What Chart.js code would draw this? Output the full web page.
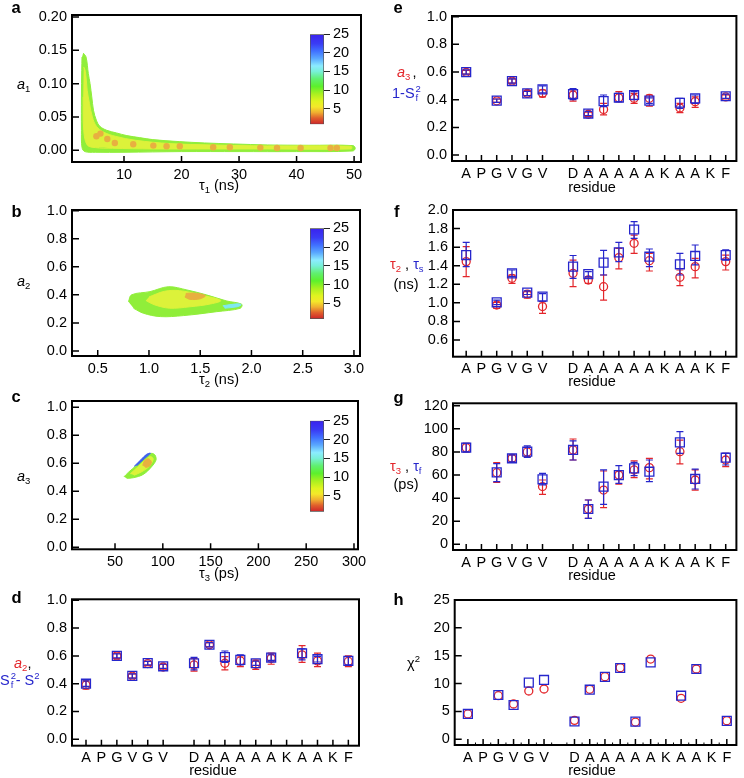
<!DOCTYPE html>
<html><head><meta charset="utf-8">
<script src="https://cdn.jsdelivr.net/npm/chart.js@4.4.1/dist/chart.umd.min.js"></script>
<style>
html,body{margin:0;padding:0;background:#fff;}
#wrap{position:relative;width:744px;height:778px;overflow:hidden;font-family:"Liberation Sans",Arial,Helvetica,sans-serif;}
canvas{position:absolute;left:0;top:0;}
.t{position:absolute;white-space:nowrap;color:#000;}
</style></head><body><div id="wrap"></div>
<script>
// ================= DATA =================
// residue axis (positions 1..18; position 7 is an empty gap)
const residueLabels = ['A','P','G','V','G','V','','D','A','A','A','A','A','K','A','A','K','F'];
const residuePos = [1,3,4,5,6,8,9,10,11,12,13,15,16,18];

// panel a : a1 vs tau1 (ns) density cloud outlines
const cloudA_outer = [[2.9,0.146],[3.4,0.140],[3.8,0.115],[4.1,0.100],[4.4,0.080],[4.7,0.060],[5.2,0.045],[5.8,0.036],[7,0.030],[8.7,0.026],[10.5,0.022],[12.7,0.019],[15,0.016],[19.6,0.013],[24,0.011],[29,0.0095],[35,0.008],[42,0.0075],[49.8,0.007],[50.2,0.003],[49.8,-0.001],[40,-0.002],[30,-0.002],[20,-0.002],[10,-0.003],[5,-0.003],[3.2,-0.002],[2.7,0.004],[2.6,0.03],[2.6,0.08],[2.65,0.12],[2.7,0.14]];
const cloudA_inner = [[3.0,0.125],[3.3,0.118],[3.6,0.09],[4.0,0.07],[4.5,0.05],[5.2,0.036],[6.5,0.027],[8.5,0.021],[12,0.015],[18,0.010],[25,0.008],[35,0.0065],[49.5,0.006],[49.5,0.002],[35,0.002],[25,0.002],[15,0.002],[8,0.003],[5,0.004],[3.6,0.008],[3.0,0.03],[2.9,0.08]];
const cloudA_dots = [[5.2,0.021],[5.9,0.025],[7.1,0.017],[8.4,0.011],[11.6,0.009],[15.1,0.007],[17.4,0.006],[19.7,0.006],[25.5,0.0045],[28.4,0.0045],[33.7,0.004],[36.6,0.0035],[40.7,0.0035],[45.9,0.0035],[47,0.0035]];
const tau1Ticks = [10,20,30,40,50];
const a1Ticks = [0,0.05,0.10,0.15,0.20];

// panel b : a2 vs tau2 (ns)
const cloudB_outer = [[0.80,0.351],[0.83,0.40],[1.01,0.423],[1.19,0.458],[1.37,0.435],[1.56,0.40],[1.76,0.356],[1.905,0.333],[1.89,0.304],[1.66,0.28],[1.335,0.252],[1.11,0.245],[0.945,0.269],[0.85,0.304]];
const cloudB_inner = [[1.0,0.385],[1.15,0.425],[1.3,0.43],[1.5,0.40],[1.7,0.36],[1.6,0.335],[1.4,0.315],[1.2,0.305],[1.05,0.33],[0.97,0.36]];
const cloudB_core = [[1.36,0.41],[1.45,0.412],[1.55,0.395],[1.5,0.372],[1.4,0.368],[1.35,0.385]];
const cloudB_edge = [[1.72,0.322],[1.86,0.336],[1.9,0.33],[1.86,0.315],[1.74,0.305]];
const tau2Ticks = [0.5,1.0,1.5,2.0,2.5,3.0];
const aTicks = [0,0.2,0.4,0.6,0.8,1.0];

// panel c : a3 vs tau3 (ps)
const cloudC_outer = [[59.4,0.504],[63.9,0.535],[72.7,0.588],[83.1,0.659],[88.3,0.671],[91.8,0.659],[92.9,0.624],[88.3,0.576],[79.6,0.521],[69.1,0.497],[62.2,0.493]];
const cloudC_inner = [[66,0.525],[74,0.575],[82,0.625],[87,0.648],[90,0.63],[86,0.58],[78,0.54],[70,0.515]];
const cloudC_core = [[79,0.585],[81,0.62],[85,0.632],[88,0.61],[86,0.58],[82,0.57]];
const cloudC_edge = [[70,0.578],[77,0.625],[83,0.664],[87,0.672],[81,0.635],[73,0.585]];
const tau3Ticks = [50,100,150,200,250,300];

// colour bar
const cbMin = 0.8, cbMax = 25;
const cbTicks = [5,10,15,20,25];

// panel d : a2 (red) and Sf^2 - S^2 (blue)
const dRed   = [0.39,0.60,0.455,0.545,0.52,0.535,0.68,0.547,0.564,0.54,0.583,0.607,0.564,0.56];
const dRedLo = [0.36,0.58,0.44,0.53,0.50,0.49,0.665,0.50,0.523,0.503,0.54,0.554,0.523,0.523];
const dRedHi = [0.42,0.62,0.47,0.56,0.54,0.58,0.695,0.595,0.60,0.57,0.62,0.674,0.62,0.60];
const dBlue   = [0.40,0.60,0.456,0.548,0.525,0.547,0.68,0.592,0.571,0.547,0.588,0.619,0.576,0.564];
const dBlueLo = [0.38,0.585,0.44,0.535,0.51,0.50,0.665,0.554,0.535,0.532,0.568,0.571,0.556,0.535];
const dBlueHi = [0.42,0.615,0.47,0.56,0.54,0.59,0.695,0.635,0.607,0.562,0.608,0.65,0.596,0.595];

// panel e : a3 (red) and 1 - Sf^2 (blue)
const eRed   = [0.598,0.392,0.535,0.446,0.446,0.434,0.295,0.33,0.414,0.41,0.41,0.34,0.386,0.42];
const eRedLo = [0.585,0.38,0.52,0.43,0.42,0.39,0.28,0.29,0.386,0.373,0.354,0.306,0.345,0.405];
const eRedHi = [0.612,0.405,0.55,0.465,0.47,0.47,0.31,0.373,0.458,0.446,0.434,0.373,0.42,0.435];
const eBlue   = [0.60,0.393,0.535,0.446,0.475,0.441,0.30,0.39,0.414,0.434,0.393,0.378,0.41,0.425];
const eBlueLo = [0.585,0.38,0.52,0.43,0.45,0.40,0.285,0.35,0.386,0.40,0.373,0.337,0.373,0.41];
const eBlueHi = [0.615,0.405,0.55,0.46,0.50,0.48,0.315,0.434,0.446,0.458,0.413,0.41,0.434,0.44];

// panel f : tau2 (red) and tau_s (blue), ns
const fRed   = [1.444,0.977,1.264,1.095,0.96,1.318,1.246,1.174,1.487,1.641,1.454,1.275,1.39,1.444];
const fRedLo = [1.282,0.94,1.21,1.05,0.887,1.174,1.21,1.03,1.365,1.533,1.343,1.185,1.27,1.354];
const fRedHi = [1.605,1.006,1.30,1.12,1.013,1.46,1.28,1.30,1.587,1.73,1.533,1.354,1.48,1.515];
const fBlue   = [1.515,1.006,1.318,1.11,1.067,1.39,1.31,1.433,1.544,1.79,1.497,1.415,1.505,1.515];
const fBlueLo = [1.39,0.98,1.282,1.09,1.02,1.264,1.28,1.30,1.444,1.695,1.39,1.30,1.41,1.46];
const fBlueHi = [1.652,1.03,1.354,1.13,1.10,1.51,1.336,1.566,1.652,1.874,1.58,1.533,1.623,1.57];

// panel g : tau3 (red) and tau_f (blue), ps
const gRed   = [83.7,62,74.5,80,50,81.7,30.6,47,60,64.4,66.4,80.2,55.7,73];
const gRedLo = [80,53.7,71.5,76,43.3,73,22.5,31.7,52,57.7,56.6,69.6,47,67.2];
const gRedHi = [87.5,70.7,77.5,84,55.7,91.2,38.4,63.5,63.5,72.2,74.5,90.3,64.4,78.8];
const gBlue   = [83.7,62.3,74.5,80.2,56.3,81.7,30.6,50,60,65.8,62.9,88.3,56.6,75];
const gBlueLo = [80,54.3,71.5,75.2,51.4,73,22.5,34.6,52.8,59.5,54.3,78.8,47.9,68.7];
const gBlueHi = [87.5,69.8,77.5,85.2,61.5,89.5,38.4,64.4,68.1,71,73,97.5,65.2,78.8];

// panel h : chi^2
const hRed  = [4.55,7.83,6.34,8.67,9.03,3.4,8.97,11.24,12.86,3.1,14.4,7.36,12.62,3.35];
const hBlue = [4.55,7.95,6.16,10.17,10.65,3.2,8.9,11.2,12.8,3.17,13.8,7.83,12.62,3.3];

const unitTicks = [0,0.2,0.4,0.6,0.8,1.0];
const fTicks = [0.6,0.8,1.0,1.2,1.4,1.6,1.8,2.0];
const gTicks = [0,20,40,60,80,100,120];
const hTicks = [0,5,10,15,20,25];
const residueTicks = residueLabels.map((_,i)=>i+1);

// ================= STYLE / HELPERS =================
const W=744,H=778;
const RED='#e3262b', BLUE='#2626cc';
const FS=14.5;
const wrap=document.getElementById('wrap');
Chart.defaults.font.family='"Liberation Sans", Arial, Helvetica, sans-serif';
Chart.defaults.font.size=FS;
Chart.defaults.color='#000';

const cmapStops=[[1,'#d02a2a'],[2.5,'#e0602c'],[4,'#f0b030'],[5.5,'#f4e82a'],[7,'#e0f420'],[9,'#a8f020'],[11,'#5cf02c'],[13,'#60f070'],[15,'#78f0d8'],[16.5,'#8cecff'],[18.5,'#5aa8ff'],[20.5,'#4070ff'],[22.5,'#3a3cf4'],[25,'#3a22ee']];

function mkCanvas(){const c=document.createElement('canvas');c.width=W;c.height=H;wrap.appendChild(c);return c;}

const framePlugin={id:'frame',afterDatasetsDraw(chart,args,o){
  const {ctx,chartArea:a}=chart; const x=chart.scales.x,y=chart.scales.y;
  ctx.save();ctx.strokeStyle='#000';ctx.lineWidth=1.5;ctx.beginPath();
  y.ticks.forEach(t=>{const p=y.getPixelForValue(t.value);ctx.moveTo(a.left,p);ctx.lineTo(a.left+7,p);});
  x.ticks.forEach(t=>{if(t.label==='')return;const p=x.getPixelForValue(t.value);ctx.moveTo(p,a.bottom);ctx.lineTo(p,a.bottom-6);});
  ctx.stroke();
  if(o&&o.minor){ctx.lineWidth=1;ctx.beginPath();x.ticks.forEach((t,i)=>{if(i===0)return;const p=x.getPixelForValue(t.value-0.5);ctx.moveTo(p,a.bottom);ctx.lineTo(p,a.bottom-2.5);});ctx.stroke();}
  ctx.lineWidth=2;ctx.strokeRect(a.left,a.top,a.right-a.left,a.bottom-a.top);
  ctx.restore();
}};
const errPlugin={id:'err',beforeDatasetDraw(chart,args){
  const ds=chart.data.datasets[args.index]; if(!ds.errLo)return;
  const x=chart.scales.x,y=chart.scales.y,ctx=chart.ctx;
  ctx.save();ctx.strokeStyle=ds.errColor;ctx.lineWidth=1.2;
  ds.data.forEach((pt,i)=>{const lo=ds.errLo[i],hi=ds.errHi[i];if(lo==null)return;
    const px=x.getPixelForValue(pt.x),y1=y.getPixelForValue(lo),y2=y.getPixelForValue(hi);
    ctx.beginPath();ctx.moveTo(px,y1);ctx.lineTo(px,y2);ctx.moveTo(px-3.5,y1);ctx.lineTo(px+3.5,y1);ctx.moveTo(px-3.5,y2);ctx.lineTo(px+3.5,y2);ctx.stroke();});
  ctx.restore();
}};

function linScale(min,max,ticks,fmt,isX,area){
  return {type:'linear',min,max,grid:{display:false,drawTicks:false},border:{display:false},
    ticks:{autoSkip:false,maxRotation:0,minRotation:0,padding:isX?4:5,callback:fmt,color:'#000',font:{size:FS}},
    afterBuildTicks:s=>{s.ticks=ticks.map(v=>({value:v}));},
    afterFit:s=>{if(isX)s.height=H-area[3];else s.width=area[0];}};
}
function panel(area,xr,yr,xt,yt,fx,fy,datasets,minor){
  return new Chart(mkCanvas(),{type:'scatter',data:{datasets},options:{
    responsive:false,animation:false,events:[],
    layout:{padding:{left:0,top:area[1],right:W-area[2],bottom:0}},
    plugins:{legend:{display:false},tooltip:{enabled:false},frame:{minor:!!minor}},
    scales:{x:linScale(xr[0],xr[1],xt,fx,true,area),y:linScale(yr[0],yr[1],yt,fy,false,area)}},
    plugins:[framePlugin,errPlugin]});
}
function poly(pts,color,order){return {type:'line',data:pts.map(p=>({x:p[0],y:p[1]})),fill:'shape',backgroundColor:color,borderColor:color,borderWidth:1,pointRadius:0,tension:0.35,order};}
function dots(pts,color,order){return {type:'scatter',data:pts.map(p=>({x:p[0],y:p[1]})),backgroundColor:color,borderWidth:0,pointRadius:3.2,order};}
function resSet(vals,lo,hi,color,style,order){
  return {data:residuePos.map((p,i)=>({x:p,y:vals[i]})),errLo:lo,errHi:hi,errColor:color,
    pointStyle:style,pointRadius:style==='rect'?6.3:4,borderColor:color,borderWidth:1.3,backgroundColor:'rgba(0,0,0,0)',order};
}
function colorbar(area){
  new Chart(mkCanvas(),{type:'bar',data:{labels:[''],datasets:[{data:[[cbMin,cbMax]],
    backgroundColor:(c)=>{const ch=c.chart;if(!ch.chartArea)return '#8f8';const ys=ch.scales.y;
      const g=ch.ctx.createLinearGradient(0,ys.getPixelForValue(cbMin),0,ys.getPixelForValue(cbMax));
      cmapStops.forEach(([v,col])=>g.addColorStop(Math.min(1,Math.max(0,(v-cbMin)/(cbMax-cbMin))),col));return g;},
    borderColor:'#555',borderWidth:1,borderSkipped:false,barPercentage:1,categoryPercentage:1}]},
    options:{responsive:false,animation:false,events:[],
      layout:{padding:{left:area[0],top:area[1],right:0,bottom:H-area[3]}},
      plugins:{legend:{display:false},tooltip:{enabled:false}},
      scales:{x:{display:false},y:{position:'right',min:cbMin,max:cbMax,
        grid:{display:true,drawOnChartArea:false,drawTicks:true,tickLength:6,color:'#222',lineWidth:1},
        border:{display:false},ticks:{padding:3,autoSkip:false,font:{size:FS},color:'#000'},
        afterBuildTicks:s=>{s.ticks=cbTicks.map(v=>({value:v}));},afterFit:s=>{s.width=W-area[2];}}}}});
}
const f0=v=>String(v), f1=v=>v.toFixed(1), f2=v=>v.toFixed(2), fRes=v=>residueLabels[v-1];
const GREEN='#90ee3a', YEL='#dcf23a', ORG='#e8b040', CYAN='#80e8f0', BLU='#4060f0';

// ================= CHARTS =================
panel([72,15,361,162],[0.96,51.2],[-0.0176,0.203],tau1Ticks,a1Ticks,f0,f2,[
  dots(cloudA_dots,ORG,1),poly(cloudA_inner,YEL,3),poly(cloudA_outer,GREEN,4)]);
colorbar([310,34.3,324,124.3]);

panel([72,210,360,356],[0.249,3.059],[-0.036,1.005],tau2Ticks,aTicks,f1,f1,[
  poly(cloudB_core,ORG,1),poly(cloudB_edge,CYAN,2),poly(cloudB_inner,YEL,3),poly(cloudB_outer,GREEN,4)]);
colorbar([310,228.3,324,319]);

panel([72,401,358,549.3],[5.0,304.2],[-0.014,1.045],tau3Ticks,aTicks,f0,f1,[
  poly(cloudC_core,ORG,1),poly(cloudC_inner,YEL,2),poly(cloudC_edge,BLU,3),poly(cloudC_outer,GREEN,4)]);
colorbar([310,420.7,324,511.7]);

panel([72,599.3,359,745.7],[0.093,18.69],[-0.046,1.007],residueTicks,unitTicks,fRes,f1,[
  resSet(dBlue,dBlueLo,dBlueHi,BLUE,'rect',0),resSet(dRed,dRedLo,dRedHi,RED,'circle',1)]);
panel([452,16,738.7,161],[0.071,18.7],[-0.043,1.005],residueTicks,unitTicks,fRes,f1,[
  resSet(eBlue,eBlueLo,eBlueHi,BLUE,'rect',0),resSet(eRed,eRedLo,eRedHi,RED,'circle',1)]);
panel([453,210,738.7,356.7],[0.136,18.7],[0.42,2.0],residueTicks,fTicks,fRes,f1,[
  resSet(fBlue,fBlueLo,fBlueHi,BLUE,'rect',0),resSet(fRed,fRedLo,fRedHi,RED,'circle',1)]);
panel([453,403.3,738.7,550],[0.136,18.7],[-4.9,122.1],residueTicks,gTicks,fRes,f0,[
  resSet(gBlue,gBlueLo,gBlueHi,BLUE,'rect',0),resSet(gRed,gRedLo,gRedHi,RED,'circle',1)]);
panel([454.7,600,739,745],[0.135,18.63],[-1.02,25],residueTicks,hTicks,fRes,f0,[
  resSet(hBlue,null,null,BLUE,'rect',0),resSet(hRed,null,null,RED,'circle',1)],true);

// ================= TEXT =================
function txt(x,base,html,o){o=o||{};const fs=o.size||FS;const d=document.createElement('div');d.className='t';
  d.style.fontSize=fs+'px';d.style.lineHeight=fs+'px';d.style.top=(base-fs*0.8465)+'px';d.style.left=x+'px';
  if(o.center)d.style.transform='translateX(-50%)';if(o.bold)d.style.fontWeight='bold';if(o.color)d.style.color=o.color;
  d.innerHTML=html;wrap.appendChild(d);}
const sub=(t,dy)=>`<span style="font-size:9.5px;line-height:0;position:relative;top:${dy==null?3:dy}px">${t}</span>`;
const sup=(t)=>`<span style="font-size:9.5px;line-height:0;position:relative;top:-6px">${t}</span>`;
const stack=(up,dn)=>`<span style="display:inline-block;position:relative;width:6px;height:0"><span style="position:absolute;left:1px;top:-14px;font-size:9.5px;line-height:9px">${up}</span><span style="position:absolute;left:1px;top:-5px;font-size:9.5px;line-height:9px">${dn}</span></span>`;
const R=s=>`<span style="color:${RED}">${s}</span>`, B=s=>`<span style="color:${BLUE}">${s}</span>`;

// panel letters
[['a',11.5,13.3],['b',11.5,216.7],['c',11.5,401.7],['d',11.5,603.3],['e',393.5,13.3],['f',394,216.7],['g',393.5,403.3],['h',393.5,605]]
  .forEach(([l,x,y])=>txt(x,y,l,{size:16.5,bold:true}));

// axis titles (left column)
txt(17,89,`<i>a</i>${sub('1')}`);
txt(17,286.7,`<i>a</i>${sub('2')}`);
txt(17,481.7,`<i>a</i>${sub('3')}`);
txt(219,190,`τ${sub('1')} (ns)`,{center:true});
txt(219,384.5,`τ${sub('2')} (ns)`,{center:true});
txt(219,578,`τ${sub('3')} (ps)`,{center:true});
txt(14,668,R(`<i>a</i>${sub('2')}`)+',');
txt(0,685,B(`S${stack('2','f')}- S${sup('2')}`));
txt(213,775,'residue',{center:true});

// right column
txt(397,77.3,R(`<i>a</i>${sub('3')}`)+'<span style="margin-left:2px">,</span>');
txt(392,98,B(`1-S${stack('2','f')}`));
txt(592,192.7,'residue',{center:true});
txt(390,269,R(`τ${sub('2')}`)+' , '+B(`τ${sub('s')}`));
txt(393.5,289,'(ns)');
txt(592,386.5,'residue',{center:true});
txt(390,471.7,R(`τ${sub('3')}`)+' , '+B(`τ${sub('f')}`));
txt(393.5,489,'(ps)');
txt(592,580,'residue',{center:true});
txt(407,668,`χ${sup('2')}`);
txt(592,775,'residue',{center:true});
</script></body></html>
